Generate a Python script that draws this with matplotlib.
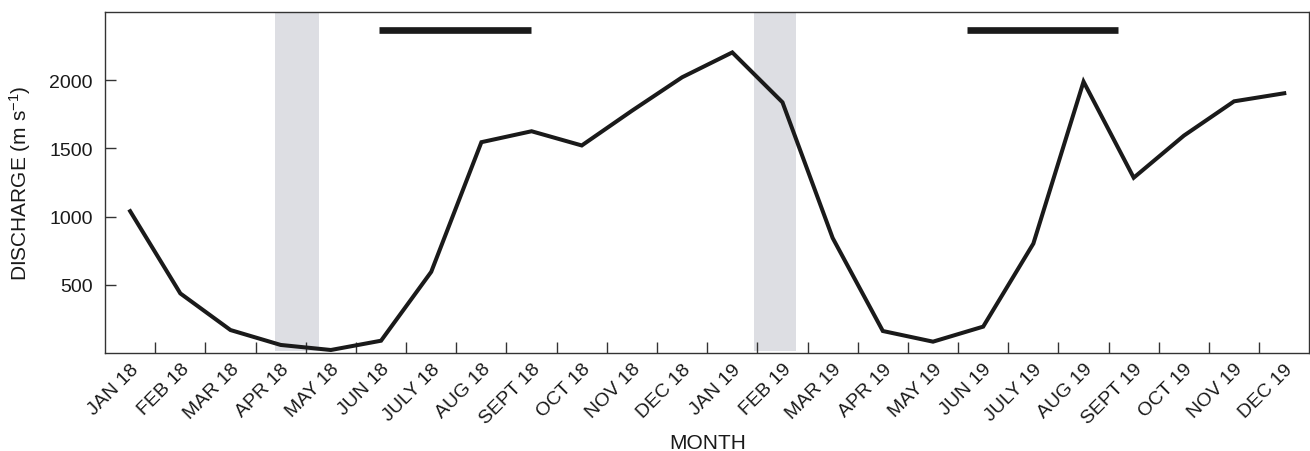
import numpy as np
import matplotlib
matplotlib.use("Agg")
import matplotlib.pyplot as plt
import matplotlib.transforms as mtransforms

plt.rcParams['font.family'] = ['Liberation Sans', 'DejaVu Sans']
plt.rcParams['mathtext.fontset'] = 'custom'
plt.rcParams['mathtext.rm'] = 'Liberation Sans'
plt.rcParams['mathtext.it'] = 'Liberation Sans'

# --- data ---
months = ["JAN 18", "FEB 18", "MAR 18", "APR 18", "MAY 18", "JUN 18",
          "JULY 18", "AUG 18", "SEPT 18", "OCT 18", "NOV 18", "DEC 18",
          "JAN 19", "FEB 19", "MAR 19", "APR 19", "MAY 19", "JUN 19",
          "JULY 19", "AUG 19", "SEPT 19", "OCT 19", "NOV 19", "DEC 19"]
discharge = [1040, 438, 170, 61, 24, 92, 596, 1545, 1625, 1521, 1775, 2020,
             2202, 1837, 844, 163, 85, 195, 803, 1988, 1285, 1593, 1844, 1903]

# shaded periods (in month-index units)
shade_start = [2.89, 12.43]
shade_end = [3.77, 13.27]
shade_low = 20

# horizontal bars near the top
bar_start = [4.96, 16.67]
bar_end = [7.98, 19.68]
bar_level = 2365

yticks = [500, 1000, 1500, 2000]

# --- plot ---
fig = plt.figure(figsize=(13.1, 4.52), dpi=100)
ax = fig.add_axes([0.0802, 0.2162, 0.9193, 0.7557])

x = np.arange(len(months))

for s, e in zip(shade_start, shade_end):
    ax.fill_between([s, e], shade_low, 2500, color='#dddee3', lw=0, zorder=1)

for s, e in zip(bar_start, bar_end):
    ax.plot([s, e], [bar_level, bar_level], color='#1a1a1a', lw=4.8,
            solid_capstyle='butt', zorder=3)

ax.plot(x, discharge, color='#1a1a1a', lw=2.9, solid_joinstyle='miter', zorder=4)

ax.set_xlim(-0.5, len(months) - 0.5)
ax.set_ylim(0, 2500)

# tick marks at month boundaries, labels at month centres
ax.set_xticks(x[:-1] + 0.5)
ax.set_xticklabels([])
ax.set_xticks(x, months, minor=True)
ax.tick_params(axis='x', which='major', direction='in', length=8, width=1,
               color='#333333')
ax.tick_params(axis='x', which='minor', length=0, pad=5, labelsize=14,
               labelcolor='#1a1a1a')
offset = mtransforms.ScaledTranslation(12 / 100, 0, fig.dpi_scale_trans)
for lab in ax.get_xticklabels(minor=True):
    lab.set_rotation(45)
    lab.set_ha('right')
    lab.set_va('top')
    lab.set_transform(lab.get_transform() + offset)

ax.set_yticks(yticks)
ax.tick_params(axis='y', direction='in', length=8, width=1, color='#333333',
               pad=9, labelsize=14, labelcolor='#1a1a1a')

for sp in ax.spines.values():
    sp.set_color('#333333')
    sp.set_linewidth(1)

ax.set_ylabel(r'DISCHARGE (m s$^{\mathregular{-1}}$)', fontsize=15, color='#1a1a1a',
              va='center')
ax.yaxis.set_label_coords(-0.0706, 0.5)
ax.set_xlabel('MONTH', fontsize=15, color='#1a1a1a')
ax.xaxis.set_label_coords(0.5, -0.26)
ax.xaxis.label.set_va('center')

fig.savefig('out.png', dpi=100)
